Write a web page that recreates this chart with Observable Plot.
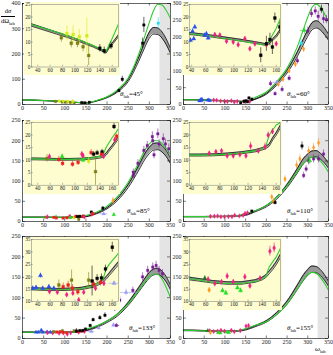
<!DOCTYPE html>
<html><head><meta charset="utf-8">
<script src="https://cdn.jsdelivr.net/npm/d3@7"></script>
<script src="https://cdn.jsdelivr.net/npm/@observablehq/plot@0.6"></script>
<style>
body{margin:0;background:#fff;}
#chart{position:relative;width:333px;height:355px;overflow:hidden;font-family:"Liberation Serif",serif;}
.lbl{position:absolute;font-family:"Liberation Serif",serif;font-size:7px;white-space:nowrap;line-height:1;color:#000}
.lbl sub{font-size:4.6px;vertical-align:-1.5px}
#chart svg text{font-family:"Liberation Serif",serif;}
</style></head><body><div id="chart"></div><script>
// ---------- data ----------
const omega = [0,25,50,75,100,125,150,175,200,225,250,275,290,300,310,320,330,340,350];
const omegaInsetL = [30,50,70,90,110,130,140,145,150,155,160,170];
const omegaInsetR = [37,50,70,90,110,130,140,145,150,155,160,166];
const xTicksMain = [0,50,100,150,200,250,300,350];
const xTicksInset = [40,60,80,100,120,140,160];
const greyBand = [325,350];

const black45 = [17.5,17,15.5,13.5,11,8.5,6,14,28,52,95,180,240,275,292,290,275,248,212];
const green45 = [17.5,17.2,15.8,13.8,11.5,8.8,6.2,16,31,58,105,200,275,325,372,397,394,372,340];
const black60 = [14,14,13.2,12,11,9.8,9,17,32,60,98,150,188,212,232,238,232,218,200];
const green60 = [14,14,13.1,11.8,10.7,9.4,8.7,22,37,68,108,172,225,260,288,298,290,270,245];
const black85 = [10.5,10.6,10.5,10.3,10.3,10.6,12.3,20,33,55,88,133,162,176,185,186,180,168,150];
const green85 = [10.5,10.6,10.5,10.3,10.4,10.8,15,23,38,62,97,146,178,192,200,200,193,181,165];
const black110 = [12,12,12,12.2,12.6,13.5,16,26,38,58,88,126,150,160,167,168,162,152,138];
const green110 = [12,12,12,12.2,12.6,13.6,20,27,40,60,88,124,145,155,160,158,150,138,122];
const black133 = [15.5,15.3,15,14.9,15.1,15.9,19.5,28,41,58,85,120,142,155,163,165,158,145,125];
const green133 = [15.5,15.3,15,14.9,15.1,16,23,31,43,60,85,118,140,152,158,157,146,125,100];
const black155 = [20,19.7,18.8,17.8,17.5,18,21.8,31,42,61,88,126,150,162,170,169,162,150,134];
const green155 = [20,19.7,18.6,17.6,17.3,17.9,24,33,41,59,85,122,145,157,162,160,150,136,118];

const iBlack45 = [16.8,15.2,13.6,12,10.2,8.2,7,6.4,5.8,7.8,9.3,12.5];
const iGreen45 = [17,15.5,14,12.4,10.6,8.5,7.3,6.8,6.2,9,11.5,17.2];
const iBlack60 = [13.4,13.0,12.3,11.5,10.7,9.8,9.3,9.0,9.6,11,12.3,14.8];
const iGreen60 = [13.4,12.9,12.2,11.3,10.4,9.4,8.9,8.6,10.5,13,15.5,19.5];
const iBlack85 = [10.5,10.4,10.3,10.3,10.4,10.8,11.2,11.5,12.3,14,15.5,19];
const iGreen85 = [10.5,10.4,10.3,10.3,10.5,11,11.5,12,15,17,19,22.5];
const iBlack110 = [12,12,12.1,12.4,12.9,13.7,14.5,15,16,18.5,20.5,23.5];
const iGreen110 = [12,12,12.1,12.4,12.9,13.8,14.6,15.4,20,22,24,25];
const iBlack133 = [15.2,15,14.9,15,15.3,16.3,17.5,18.3,19.5,21,22.5,25.5];
const iGreen133 = [15.2,15,14.9,15,15.3,16.5,18,19,23,25,26.5,29.5];
const iBlack155 = [19.3,18.8,18,17.5,17.5,18.3,19.3,20.2,21.8,23.5,25.5,28.5];
const iGreen155 = [19.3,18.7,17.8,17.3,17.3,18.1,19.1,20,24,26,28,31.5];

// points: [omega, value, error, series, omega-error]
const pts45 = [
[78,11.7,1.8,"o"],[94,9.5,1.8,"o"],[104,9.5,1.8,"o"],[113,8.1,2,"o"],[122,4.6,4,"o"],
[87,13.4,3,"y"],[97,13,3.5,"y"],[107,12.1,3,"y"],[119,12.5,7,"y"],
[140,7.5,1.5,"k"],[147,6.5,1.5,"k"],[158,8.5,1.5,"k"],
[228,55,6,"k"],[236,100,12,"k"],[284,243,20,"k"],[287,315,30,"k"],[321,322,22,"c"]];
const pts60 = [
[38.4,10.7,0.8,"b"],[41.3,14.3,0.8,"b"],[44.5,16,0.8,"b"],[43,11.3,0.8,"b"],[58.5,12.7,0.8,"b"],[61,13.3,0.8,"b"],[63.5,11.6,0.8,"b"],
[72.9,12.9,0.8,"m"],[80,12.7,0.8,"m"],[89.5,10.3,0.8,"m"],[99,10,0.8,"m"],[106,8.9,0.8,"m"],[115.5,11.3,0.8,"m"],[122.6,7.3,0.8,"m"],[129.7,9.3,0.8,"m"],[146,8.9,0.8,"m"],[160,9.3,0.8,"m"],
[138,4.7,3,"k"],[146,9.3,3,"k"],[151,11,2.5,"k"],[154.5,8,3,"k"],[158,19.6,2,"k"],[165,16,2,"k"],
[225,66,6,"l",10],[229,60,8,"or"],[240,75,8,"or"],[255,100,8,"or"],[270,120,10,"or"],[290,165,10,"or"],[284,182,10,"c"],[292,220,12,"g",10],
[210,62,8,"p"],[221,32,6,"p"],[238,45,8,"p"],[255,78,8,"p"],[275,130,10,"p"],[300,218,12,"p"],[309,270,12,"p"],[318,278,12,"p"],[325,262,15,"p"],[333,283,12,"k"],[338,255,15,"p"],[345,252,12,"p"]];
const pts85 = [
[55,10.7,1.5,"o"],[58.9,11.4,1,"m"],[79.3,11.4,1,"g"],[74,10.3,1.2,"r"],[80,8.7,1.2,"r"],[96,8.4,1.2,"r"],[105,9.1,1.2,"r"],[113,11.7,1,"m"],[111,12.4,1,"m"],[113,10,1,"g"],[122,9.6,1.5,"y"],[126,13,1.2,"r"],[133,5.4,6,"o"],[130,12.4,1,"k"],[135.6,12.9,1,"k"],[143.6,13.3,1,"k"],[142.5,12.4,1,"r"],[146,11.5,1,"m"],[162.8,23.4,1.2,"k"],[164,18.1,1,"m"],[167,19.5,1,"r"],
[190,33,4,"k"],[214,52,8,"or"],[192,19,3,"l",10],[216,17,3,"g"],
[262,122,8,"p"],[262,114,8,"p"],[273,144,9,"p"],[287,176,10,"p"],[295,188,10,"p"],[307,210,12,"p"],[308,200,12,"p"],[311,165,10,"p"],[320,217,12,"p"],[323,192,10,"p"],[333,205,12,"p"],[338,192,12,"p"],[346,180,12,"p"]];
const pts110 = [
[65,12.7,0.8,"m"],[74.4,13.3,0.8,"m"],[82.4,13.7,0.8,"m"],[90.4,11.7,0.8,"m"],[99,11.7,0.8,"m"],[108.4,12.2,0.8,"m"],[117,11.7,0.8,"m"],[123.6,15.6,1.5,"m"],[134.5,13.7,1,"m"],[144,15.3,1.5,"m"],[148.5,20,1.2,"m"],[154.6,21.4,1.2,"m"],[165,25.8,1,"k"],
[213,61,8,"or"],[217,50,8,"or"],[225,85,8,"or"],[233,101,8,"or"],[245,105,8,"or"],[273,140,10,"or"],[281,155,10,"or"],[302,175,10,"or"],[314,183,10,"or"],[326,195,10,"or"],
[290,114,8,"p"],[296,130,8,"p"],[302,150,10,"p"],[314,155,10,"p"],[326,155,10,"p"],[338,167,10,"p"],
[221,47,5,"k"],[233,110,8,"k"],[286,187,10,"k"],[305,150,8,"g"]];
const pts133 = [
[32,15.4,0.8,"b"],[37.4,15.7,0.8,"b"],[44.4,20.5,1,"b"],[48,15.4,0.8,"b"],[58,16,0.8,"b"],[66,15.4,0.8,"b"],
[59,14.1,0.8,"m"],[71.6,13.8,0.8,"m"],[86.6,12.8,0.8,"m"],[96.6,13.4,0.8,"m"],[106,10.7,0.8,"m"],[114,13.8,0.8,"m"],[133,15.4,1,"m"],[146.5,17.4,1,"m"],
[74,16.7,2,"o"],[94.5,18.7,4,"o"],[122,18.7,3,"o"],
[81,16,1.5,"r"],[89,16.7,1.5,"r"],[96,15.4,1.5,"r"],[104.5,14,1.5,"r"],[130,17,1.5,"r"],[141,17.8,1.5,"r"],
[127.5,18.3,6,"k"],[135.6,19.4,1.5,"k"],[142.6,19.6,1.5,"k"],[149,23.2,1.5,"k"],[160,31.9,2,"k"],
[162.8,17.4,0.8,"l",8],
[167,46,4,"k"],[183,51,5,"k"],[195,57,6,"k"],[218,73,6,"k"],[180,26,4,"l"],[215,33,5,"l"],[222,32,5,"p",8],[245,113,8,"l",30],
[230,94,8,"p"],[261,118,8,"p"],[284,151,10,"p"],[296,167,10,"p"],[308,175,10,"p"],[316,179,10,"p"],[323,167,10,"p"],[331,159,10,"p"]];
const pts155 = [
[58.7,19.4,1,"dg"],[63.4,19,1,"m"],[72.9,17.3,0.8,"m"],[64.9,14.7,0.8,"or"],[82.4,18,0.8,"m"],[83.8,14.5,1,"g"],[88.6,13.5,1,"g"],[90.4,20.3,1.2,"m"],[99,18,0.8,"m"],[105,15.6,1,"g"],[109.4,14.5,1,"g"],[115.5,20,1.2,"m"],[122.6,16.4,1.2,"m"],[137,19.4,1,"m"],[151,30.3,2,"m"],[157,31.6,2,"m"]];

const seriesKeys   = ["k","y","o","b","m","p","or","c","r","g","l","dg"];
const seriesColors = ["#000000","#d6ec1a","#7f7f14","#2a4df0","#f0207f","#7a1c96","#ff9a20","#22dff0","#f02020","#22dd22","#9b9bf0","#1a7a1a"];
const seriesShapes = ["square","square","square","triangle","diamond","square","diamond","square","square","triangle","triangle","triangle"];

// ---------- layout ----------
const COLS = [{x0:22,x1:170,ml:22},{x0:183,x1:328,ml:14}];
const ROWS = [{top:3,bot:104},{top:120,bot:221},{top:236,bot:338}];
const ICOLS = [{x0:31,x1:118,dom:[30,170],om:omegaInsetL},{x0:189,x1:280,dom:[37,166],om:omegaInsetR}];
const IROWS = [{top:3.5,bot:66},{top:122,bot:184.7},{top:238.5,bot:300.7}];

const panels = [
 {col:0,row:0,ang:"45°", ymax:400,yt:[0,100,200,300,400],pts:pts45,b:black45,g:green45,ib:iBlack45,ig:iGreen45,iy:[0,25],lx:50},
 {col:1,row:0,ang:"60°", ymax:300,yt:[0,50,100,150,200,250,300],pts:pts60,b:black60,g:green60,ib:iBlack60,ig:iGreen60,iy:[0,25],lx:41},
 {col:0,row:1,ang:"85°", ymax:250,yt:[0,50,100,150,200,250],pts:pts85,b:black85,g:green85,ib:iBlack85,ig:iGreen85,iy:[0,25],lx:43},
 {col:1,row:1,ang:"110°",ymax:250,yt:[0,50,100,150,200,250],pts:pts110,b:black110,g:green110,ib:iBlack110,ig:iGreen110,iy:[0,25],lx:41},
 {col:0,row:2,ang:"133°",ymax:250,yt:[0,50,100,150,200,250],pts:pts133,b:black133,g:green133,ib:iBlack133,ig:iGreen133,iy:[10,35],lx:41},
 {col:1,row:2,ang:"155°",ymax:250,yt:[0,50,100,150,200,250],pts:pts155,b:black155,g:green155,ib:iBlack155,ig:iGreen155,iy:[10,35],lx:41}
];

const chart = document.getElementById("chart");
const FONT = "'Liberation Serif', serif";
const scales = {
  color:{type:"ordinal",domain:seriesKeys,range:seriesColors},
  symbol:{domain:seriesKeys,range:seriesShapes}
};
function pointMarks(pts, r, clip){
  return [
    Plot.ruleX(pts,{x:d=>d[0],y1:d=>d[1]-d[2],y2:d=>d[1]+d[2],stroke:d=>d[3],strokeWidth:0.6,clip}),
    Plot.ruleY(pts.filter(d=>d[4]),{y:d=>d[1],x1:d=>d[0]-d[4],x2:d=>d[0]+d[4],stroke:d=>d[3],strokeWidth:0.6,clip}),
    Plot.dot(pts,{x:d=>d[0],y:d=>d[1],fill:d=>d[3],stroke:d=>d[3],strokeWidth:0.3,symbol:d=>d[3],r,clip})
  ];
}
function curveMarks(om, b, g, rel, abs, lw, curve, clip){
  const cb = om.map((x,i)=>({x,y:b[i]}));
  const cg = om.map((x,i)=>({x,y:g[i]}));
  return [
    Plot.areaY(cb,{x:"x",y1:d=>d.y*(1-rel)-abs,y2:d=>d.y*(1+rel)+abs,fill:"#9a9a9a",curve,clip}),
    Plot.lineY(cb,{x:"x",y:d=>d.y*(1-rel)-abs,stroke:"#000",strokeWidth:lw,curve,clip}),
    Plot.lineY(cb,{x:"x",y:d=>d.y*(1+rel)+abs,stroke:"#000",strokeWidth:lw,curve,clip}),
    Plot.lineY(cg,{x:"x",y:"y",stroke:"#2fcc2f",strokeWidth:1.1,curve,clip})
  ];
}

for (const P of panels){
  const c = COLS[P.col], r = ROWS[P.row];
  const ml=c.ml, mr=2, mt=3, mb=9;
  const main = Plot.plot({
    width:c.x1-c.x0+ml+mr, height:r.bot-r.top+mt+mb,
    marginLeft:ml, marginRight:mr, marginTop:mt, marginBottom:mb,
    x:{domain:[0,350]}, y:{domain:[0,P.ymax]}, ...scales,
    style:{position:"absolute",left:(c.x0-ml)+"px",top:(r.top-mt)+"px",background:"transparent",overflow:"visible",fontFamily:FONT,color:"#000"},
    marks:[
      Plot.rect([greyBand],{x1:d=>d[0],x2:d=>d[1],y1:0,y2:P.ymax,fill:"#e4e4e4"}),
      ...curveMarks(omega,P.b,P.g,0.045,0,0.8,"monotone-x",true),
      ...pointMarks(P.pts,1.4,true),
      Plot.ruleX(xTicksMain,{x:d=>d,y1:0,y2:P.ymax*0.025,stroke:"#000",strokeWidth:0.5}),
      Plot.ruleX(xTicksMain,{x:d=>d,y1:P.ymax,y2:P.ymax*0.975,stroke:"#000",strokeWidth:0.5}),
      Plot.ruleY(P.yt,{y:d=>d,x1:0,x2:7,stroke:"#000",strokeWidth:0.5}),
      Plot.ruleY(P.yt,{y:d=>d,x1:350,x2:343,stroke:"#000",strokeWidth:0.5}),
      Plot.frame({stroke:"#000",strokeWidth:0.6}),
      Plot.axisX({ticks:xTicksMain,tickSize:0,tickPadding:1.5,fontSize:6,fill:"#222",label:null}),
      Plot.axisY({ticks:P.yt,tickSize:0,tickPadding:2,fontSize:6,fill:"#222",label:null})
    ]
  });
  chart.appendChild(main);

  const ic = ICOLS[P.col], ir = IROWS[P.row];
  const iml=7, imr=2, imt=2, imb=9;
  const span = P.iy[1]-P.iy[0];
  const ipts = P.pts.filter(d=>d[0]>=ic.dom[0] && d[0]<=ic.dom[1] && d[1]<=P.iy[1]+2);
  const yTicksInset = d3.range(P.iy[0],P.iy[1]+0.1,5);
  const inset = Plot.plot({
    width:ic.x1-ic.x0+iml+imr, height:ir.bot-ir.top+imt+imb,
    marginLeft:iml, marginRight:imr, marginTop:imt, marginBottom:imb,
    x:{domain:ic.dom}, y:{domain:P.iy}, ...scales,
    style:{position:"absolute",left:(ic.x0-iml)+"px",top:(ir.top-imt)+"px",background:"#fdfdd0",overflow:"hidden",fontFamily:FONT,color:"#000"},
    marks:[
      ...curveMarks(ic.om,P.ib,P.ig,0.02,0.15,0.7,"linear",true),
      ...pointMarks(ipts,1.6,true),
      Plot.ruleX(xTicksInset,{x:d=>d,y1:P.iy[0],y2:P.iy[0]+span*0.03,stroke:"#555",strokeWidth:0.4}),
      Plot.ruleY(yTicksInset,{y:d=>d,x1:ic.dom[0],x2:ic.dom[0]+(ic.dom[1]-ic.dom[0])*0.02,stroke:"#555",strokeWidth:0.4}),
      Plot.frame({stroke:"#777",strokeWidth:0.5}),
      Plot.axisX({ticks:xTicksInset,tickSize:0,tickPadding:1,fontSize:5.3,fill:"#222",label:null}),
      Plot.axisY({ticks:yTicksInset,tickSize:0,tickPadding:1,fontSize:5.3,fill:"#222",label:null})
    ]
  });
  chart.appendChild(inset);

  const lab = document.createElement("div");
  lab.className = "lbl";
  lab.innerHTML = `<i>θ</i><sub>lab</sub>=${P.ang}`;
  lab.style.left = (c.x1 - P.lx) + "px";
  lab.style.top = (r.bot - 13) + "px";
  chart.appendChild(lab);
}

const yl = document.createElement("div");
yl.className = "lbl";
yl.style.left = "1px"; yl.style.top = "8px"; yl.style.textAlign = "center"; yl.style.fontSize = "6.5px";
yl.innerHTML = `<div>d<i>σ</i></div><div style="border-top:0.6px solid #000;margin:1px 0;padding-top:1px">dΩ<sub>lab</sub></div>`;
chart.appendChild(yl);

const xl = document.createElement("div");
xl.className = "lbl";
xl.style.left = "315px"; xl.style.top = "346px"; xl.style.fontSize = "7px";
xl.innerHTML = `<i>ω</i><sub>lab</sub>`;
chart.appendChild(xl);
</script></body></html>
